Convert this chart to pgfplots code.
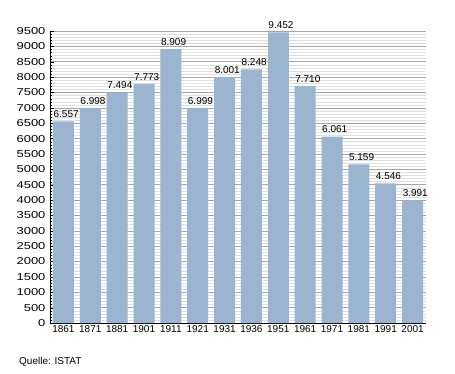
\documentclass[border=0pt]{standalone}
\usepackage{pgfplots}
\pgfplotsset{compat=1.18}
\usepackage{fontspec}
\setmainfont{Liberation Sans}
\newfontfamily\widefont[FakeStretch=1.3]{Liberation Sans}
\definecolor{barc}{HTML}{9BB4CF}
\begin{document}
\begin{tikzpicture}
\path[use as bounding box] (-50pt,-50pt) rectangle (405pt,323pt);
\begin{axis}[
  scale only axis=true,
  width=376pt, height=292pt,
  xmin=-0.5, xmax=13.5,
  ymin=0, ymax=9500,
  axis x line*=bottom,
  axis y line*=left,
  axis line style={black, thick, -},
  xtick={0,...,13},
  xticklabels={1861,1871,1881,1901,1911,1921,1931,1936,1951,1961,1971,1981,1991,2001},
  x tick style={draw=none},
  ytick={0,500,...,9500},
  minor y tick num=4,
  y tick style={black},
  major tick length=4pt,
  minor tick length=2pt,
  ymajorgrids=true, yminorgrids=true,
  major grid style={gray!70, line width=0.5pt},
  minor grid style={gray!25, line width=0.4pt},
  xticklabel style={font=\fontsize{10}{12}\selectfont, yshift=1pt},
  yticklabel style={font=\widefont\fontsize{10}{12}\selectfont, /pgf/number format/1000 sep={}, xshift=-1pt},
  /pgf/number format/assume math mode=true,
  ytick align=inside,
  clip=false,
]
\addplot[ybar, bar width=21pt, fill=barc, draw=none,
  nodes near coords,
  nodes near coords style={font=\fontsize{10}{12}\selectfont, anchor=south west, xshift=-11pt, yshift=2.5pt, inner sep=1pt, /pgf/number format/1000 sep={.}, /pgf/number format/assume math mode=true},
] coordinates {
(0,6557) (1,6998) (2,7494) (3,7773) (4,8909) (5,6999) (6,8001) (7,8248) (8,9452) (9,7710) (10,6061) (11,5159) (12,4546) (13,3991)
};
\end{axis}
\node[anchor=west, font=\fontsize{10}{12}\selectfont, inner sep=0pt] at (-31pt,-39pt) {Quelle: ISTAT};
\end{tikzpicture}
\end{document}
